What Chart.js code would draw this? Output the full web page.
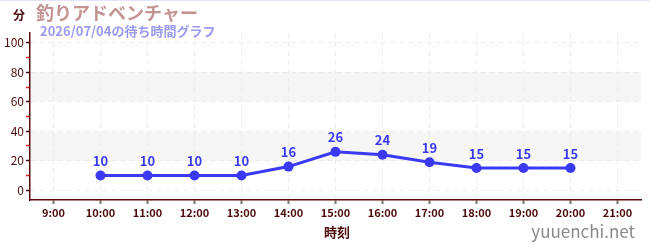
<!DOCTYPE html>
<html><head><meta charset="utf-8">
<script src="https://cdn.jsdelivr.net/npm/chart.js@4"></script>
<style>html,body{margin:0;padding:0;background:#fff}#w{width:650px;height:250px;position:relative}</style>
</head><body><div id="w"><canvas id="c" width="650" height="250"></canvas></div>
<script>
const categories = ["9:00","10:00","11:00","12:00","13:00","14:00","15:00","16:00","17:00","18:00","19:00","20:00","21:00"];
const waitTimes = [null,10,10,10,10,16,26,24,19,15,15,15,null];
const yTicks = [0,10,20,30,40,50,60,70,80,90,100];
const bands = [[20,40],[60,80]];
const unitLabel = "分";
const titleText = "釣りアドベンチャー";
const subtitleText = "2026/07/04の待ち時間グラフ";
const xTitle = "時刻";
const watermark = "yuuenchi.net";

const FONT = "'Noto Sans CJK JP','Noto Sans',sans-serif";
const DARK = "#4d0a0a";
const BLUE = "#3a3af5";

const deco = {
  id: 'deco',
  beforeDraw(chart) {
    const {ctx, chartArea: a, scales: {y}} = chart;
    ctx.save();
    ctx.fillStyle = '#f6f6f6';
    bands.forEach(([lo, hi]) => {
      const t = y.getPixelForValue(hi), b = y.getPixelForValue(lo);
      ctx.fillRect(a.left, t, a.right - a.left, b - t);
    });
    ctx.fillStyle = '#e4e4fa';
    ctx.fillRect(0, 0, 650, 1);
    ctx.restore();
  },
  afterDraw(chart) {
    const {ctx} = chart;
    ctx.save();
    ctx.textBaseline = 'middle';
    ctx.textAlign = 'left';
    ctx.fillStyle = DARK;
    ctx.font = "bold 12px " + FONT;
    ctx.fillText(unitLabel, 13, 15);
    ctx.fillStyle = '#c49494';
    ctx.font = "bold 18px " + FONT;
    ctx.fillText(titleText, 36, 13);
    ctx.fillStyle = '#9a9aee';
    ctx.font = "bold 13px " + FONT;
    ctx.fillText(subtitleText, 40, 31);
    ctx.fillStyle = DARK;
    ctx.font = "bold 13px " + FONT;
    ctx.textAlign = 'center';
    ctx.fillText(xTitle, 337, 232);
    ctx.fillStyle = '#8a8a8a';
    ctx.font = "17px " + FONT;
    ctx.textAlign = 'right';
    ctx.fillText(watermark, 635, 232);
    // data labels
    const meta = chart.getDatasetMeta(0);
    ctx.fillStyle = BLUE;
    ctx.font = "bold 13px " + FONT;
    ctx.textAlign = 'center';
    ctx.textBaseline = 'bottom';
    meta.data.forEach((pt, i) => {
      const v = waitTimes[i];
      if (v === null || pt.skip) return;
      ctx.fillText(String(v), pt.x, pt.y - 8);
    });
    ctx.restore();
  }
};

new Chart(document.getElementById('c'), {
  type: 'line',
  data: {
    labels: categories,
    datasets: [{
      data: waitTimes,
      borderColor: BLUE,
      backgroundColor: BLUE,
      borderWidth: 3,
      pointRadius: 5,
      pointHoverRadius: 5,
      pointBackgroundColor: BLUE,
      pointBorderWidth: 0,
      tension: 0,
      spanGaps: false
    }]
  },
  options: {
    responsive: false,
    animation: false,
    events: [],
    layout: {padding: {top: 33, right: 9, left: 0, bottom: 0}},
    plugins: {legend: {display: false}, tooltip: {enabled: false}, title: {display: false}},
    scales: {
      x: {
        type: 'category',
        offset: true,
        afterFit(s) { s.height = 50; },
        grid: {
          color: '#ececec',
          lineWidth: 1,
          drawTicks: true,
          tickLength: 4,
          tickColor: '#777',
          tickWidth: 2
        },
        border: {display: true, color: '#5a0a0a', width: 1.5, dash: [5, 4]},
        ticks: {color: DARK, font: {family: FONT, size: 11, weight: 'bold'}, padding: 2, maxRotation: 0, autoSkip: false}
      },
      y: {
        min: -6.67,
        max: 106.67,
        afterFit(s) { s.width = 30; },
        afterBuildTicks(s) { s.ticks = yTicks.map(v => ({value: v})); },
        grid: {
          color: ctx => (ctx.tick && ctx.tick.value % 20 === 0) ? '#ececec' : 'rgba(0,0,0,0)',
          lineWidth: 1,
          drawTicks: true,
          tickLength: 4,
          tickWidth: 1.5,
          tickColor: ctx => (ctx.tick && ctx.tick.value % 20 === 0) ? '#3a0a0a' : '#e02020'
        },
        border: {display: true, color: '#5a0a0a', width: 1.5, dash: [5, 4]},
        ticks: {
          color: DARK,
          font: {family: FONT, size: 12},
          padding: 2,
          autoSkip: false,
          callback: v => (v % 20 === 0 ? String(v) : '')
        }
      }
    }
  },
  plugins: [deco]
});
</script>
</body></html>
